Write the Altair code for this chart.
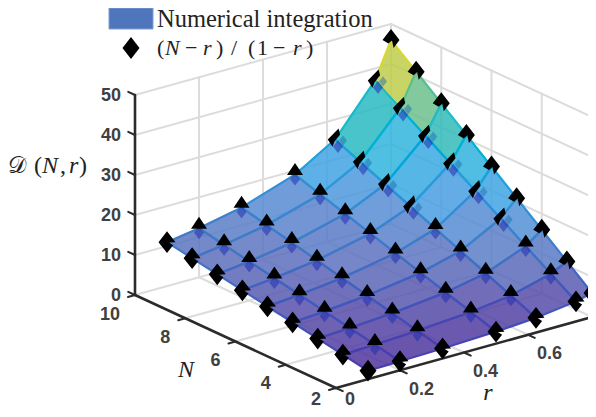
import altair as alt

# ---- values ----
N_values = [2, 3, 4, 5, 6, 7, 8, 9, 10]
r_values = [0.1, 0.2, 0.333, 0.5, 0.625, 0.75, 0.8]
D_r010 = [2.11, 3.22, 4.33, 5.44, 6.56, 7.67, 8.78, 9.89, 11.0]
D_r020 = [2.25, 3.5, 4.75, 6.0, 7.25, 8.5, 9.75, 11.0, 12.25]
D_r033 = [2.5, 4.0, 5.5, 7.0, 8.5, 10.0, 11.5, 13.0, 14.5]
D_r050 = [3.0, 5.0, 7.0, 9.0, 11.0, 13.0, 15.0, 17.0, 19.0]
D_r063 = [3.67, 6.33, 9.0, 11.67, 14.33, 17.0, 19.67, 22.33, 25.0]
D_r075 = [5.0, 9.0, 13.0, 17.0, 21.0, 25.0, 29.0, 33.0, 37.0]
D_r080 = [6.0, 11.0, 16.0, 21.0, 26.0, 31.0, 36.0, 41.0, 46.0]
D_rows = [D_r010, D_r020, D_r033, D_r050, D_r063, D_r075, D_r080]
z_ticks = [0, 10, 20, 30, 40, 50]
N_ticks = [2, 4, 6, 8, 10]
r_ticks = [0, 0.2, 0.4, 0.6]
r_tick_text = ["0", "0.2", "0.4", "0.6"]

SERIF = "Liberation Serif"
SANS = "Liberation Sans"
W, H = 580, 401
OFF = 8


# 3-D view: the oblique projection of this box onto the page
def proj(N, r, z):
    return (336 + 320 * r - 25.125 * (N - 2), 388 - 88.75 * r - 11.625 * (N - 2) - 4.0 * z)


def seg(a, b):
    p, q = proj(*a), proj(*b)
    return {"x": p[0], "y": p[1], "x2": q[0], "y2": q[1]}


xs = alt.Scale(domain=[OFF, OFF + W], range=[0, W])
ys = alt.Scale(domain=[OFF, OFF + H], range=[0, H])


def rules(segs, color, width):
    return alt.Chart(alt.Data(values=segs)).mark_rule(color=color, strokeWidth=width, strokeCap="round").encode(
        x=alt.X("x:Q", scale=xs, axis=None),
        y=alt.Y("y:Q", scale=ys, axis=None),
        x2="x2:Q",
        y2="y2:Q",
    )


def label(text, x, y, size=18, font=SANS, weight="normal", style="normal", align="left", color="#222222"):
    return alt.Chart(alt.Data(values=[{"t": text}])).mark_text(
        text=text, font=font, fontSize=size, fontWeight=weight, fontStyle=style, align=align,
        baseline="alphabetic", color=color,
    ).encode(x=alt.value(x - OFF), y=alt.value(y - OFF))


# ---- box grid ----
grid = []
for z in z_ticks[1:]:
    grid.append(seg((10, 0, z), (10, 0.8, z)))
    grid.append(seg((10, 0.8, z), (2, 0.8, z)))
for r in r_ticks[1:]:
    grid.append(seg((10, r, 0), (10, r, 50)))
    grid.append(seg((10, r, 0), (2, r, 0)))
for n in N_ticks[1:-1]:
    grid.append(seg((n, 0.8, 0), (n, 0.8, 50)))
    grid.append(seg((n, 0, 0), (n, 0.8, 0)))
grid.append(seg((10, 0.8, 0), (10, 0.8, 50)))
grid.append(seg((2, 0.8, 0), (2, 0.8, 50)))
grid.append(seg((10, 0, 0), (10, 0.8, 0)))
grid.append(seg((10, 0.8, 0), (2, 0.8, 0)))

axes_main = [seg((10, 0, 0), (10, 0, 50)), seg((10, 0, 0), (2, 0, 0)), seg((2, 0, 0), (2, 0.8, 0))]
ticks = []
for z in z_ticks:
    ticks.append(seg((10, 0, z), (10.27, 0, z)))
for n in N_ticks:
    ticks.append(seg((n, 0, 0), (n, -0.022, 0)))
for r in r_ticks:
    ticks.append(seg((2, r, 0), (1.73, r, 0)))

# ---- surface faces ----
features = []
for i in range(len(r_values) - 2, -1, -1):
    for j in range(len(N_values) - 2, -1, -1):
        corners = [(i, j), (i + 1, j), (i + 1, j + 1), (i, j + 1)]
        pts_ = [proj(N_values[b], r_values[a], D_rows[a][b]) for a, b in corners]
        key = sum(D_rows[a][b] for a, b in corners) / 4
        ring = [list(p) for p in pts_] + [list(pts_[0])]
        features.append({"type": "Feature", "properties": {"key": key},
                         "geometry": {"type": "Polygon", "coordinates": [ring]}})
features.sort(key=lambda f: -f["properties"]["key"])

FACE_ALPHA = 0.85


def unblend(hexc):
    v = [int(hexc[k:k + 2], 16) for k in (1, 3, 5)]
    v = [max(0, min(255, round((c - (1 - FACE_ALPHA) * 255) / FACE_ALPHA))) for c in v]
    return "#%02x%02x%02x" % tuple(v)


fill_dom = [3, 6, 10, 15, 20, 26, 30, 35, 39]
fill_rng = [unblend(c) for c in ["#6a55ad", "#7068b6", "#7585c6", "#7399d6", "#62aee6", "#4fbfe2", "#4fc5c6", "#85c99c", "#c4d46a"]]
edge_dom = [3, 10, 20, 30, 35, 40]
edge_rng = ["#4a3fb0", "#4475c4", "#2a9ddf", "#1fbcc8", "#55c090", "#f7d820"]

geo = alt.InlineData(values={"type": "FeatureCollection", "features": features},
                     format=alt.DataFormat(property="features", type="json"))
faces = alt.Chart(geo).mark_geoshape(strokeWidth=0, fillOpacity=FACE_ALPHA).encode(
    fill=alt.Fill("properties.key:Q", scale=alt.Scale(domain=fill_dom, range=fill_rng), legend=None)
).project(type="identity", scale=1, translate=[-OFF, -OFF])
edges = alt.Chart(geo).mark_geoshape(filled=False, strokeWidth=2.2).encode(
    stroke=alt.Stroke("properties.key:Q", scale=alt.Scale(domain=edge_dom, range=edge_rng), legend=None)
).project(type="identity", scale=1, translate=[-OFF, -OFF])

# ---- markers, split by how the surface cuts each diamond ----
DIAMOND = "M0,-1.28L1,0L0,1.28L-1,0Z"
NOTCH_R = "M0,-1.28L1,0L0.22,0.05L0.72,0.36L0,1.28L-1,0Z"
ARROW = "M0,-1.28L1,0L0.3,0.95L0.12,0.05L-0.3,0.42L-1,0Z"
TRI = "M0,-1.45L1,0.05L-1,0.05Z"
SLIVER = "M0.42,-1.3L-0.85,0.0L-0.3,0.85L-0.05,0.2L0.6,-0.6Z"

groups = {"full": [], "notch": [], "arrow": [], "tri": [], "sliver": []}
under = []
under_side = []
for i, r in enumerate(r_values):
    for j, n in enumerate(N_values):
        d = D_rows[i][j]
        x, y = proj(n, r, d)
        pt = {"x": x, "y": y}
        if i == 0 and j == 0:
            groups["full"].append(pt)
        elif i == 0 or j == 0:
            groups["notch"].append(pt)
        elif i == len(r_values) - 1:
            groups["arrow"].append(pt)
        elif d >= 17 and r >= 0.6:
            groups["sliver"].append(pt)
            under.append({"x": x + 3, "y": y + 7})
            under_side.append({"x": x + 8, "y": y + 1})
        else:
            groups["tri"].append(pt)
            under.append({"x": x, "y": y + 4.5})


def pts(values, shape, size, color="#000000", opacity=1.0):
    return alt.Chart(alt.Data(values=values)).mark_point(
        shape=shape, size=size, filled=True, fill=color, strokeWidth=0, opacity=opacity
    ).encode(x=alt.X("x:Q", scale=xs, axis=None), y=alt.Y("y:Q", scale=ys, axis=None))


marker_layers = [
    pts(under, DIAMOND, 100, "#1f2fb0", 0.55),
    pts(under_side, DIAMOND, 64, "#1f6fb0", 0.5),
    pts(groups["full"], DIAMOND, 289),
    pts(groups["notch"], NOTCH_R, 289),
    pts(groups["arrow"], ARROW, 289),
    pts(groups["tri"], TRI, 256),
    pts(groups["sliver"], SLIVER, 289),
]

# ---- texts ----
texts = []
for z in z_ticks:
    p = proj(10, 0, z)
    texts.append(label(str(z), 121, p[1] + 6, weight="bold", align="right", color="#404040"))
for n in N_ticks:
    p = proj(n, 0, 0)
    texts.append(label(str(n), p[0] - 15, min(p[1] + 24.5, 405), weight="bold", align="right", color="#404040"))
for r, t in zip(r_ticks, r_tick_text):
    p = proj(2, r, 0)
    texts.append(label(t, p[0] + 9, min(p[1] + 24.5, 405), weight="bold", color="#404040"))

texts.append(label("N", 186, 377, size=24, font=SERIF, style="italic", align="center"))
texts.append(label("r", 488, 400, size=24, font=SERIF, style="italic", align="center"))

# z title
texts.append(label("𝒟", 8, 173, size=23, font="DejaVu Sans"))
texts.append(label("(", 34, 173, size=24, font=SERIF))
texts.append(label("N", 42, 173, size=24, font=SERIF, style="italic"))
texts.append(label(",", 60, 173, size=24, font=SERIF))
texts.append(label("r", 69, 173, size=24, font=SERIF, style="italic"))
texts.append(label(")", 79, 173, size=24, font=SERIF))

# legend
legend_box = alt.Chart(alt.Data(values=[{"x": 109, "x2": 153, "y": OFF, "y2": 29}])).mark_rect(
    color="#4f75bd", stroke="#7f9fd6", strokeWidth=1
).encode(x=alt.X("x:Q", scale=xs, axis=None), x2="x2:Q", y=alt.Y("y:Q", scale=ys, axis=None), y2="y2:Q")
legend_mark = pts([{"x": 131, "y": 48}], DIAMOND, 289)
texts.append(label("Numerical integration", 157, 27, size=24.5, font=SERIF))
for t, x, st in [("(", 157, "normal"), ("N", 165, "italic"), ("−", 185, "normal"), ("r", 203, "italic"),
                 (")", 216, "normal"), ("/", 231, "normal"), ("(", 248, "normal"), ("1", 257, "normal"),
                 ("−", 273, "normal"), ("r", 293, "italic"), (")", 306, "normal")]:
    texts.append(label(t, x, 55, size=22, font=SERIF, style=st))

chart = alt.layer(
    rules(grid, "#dcdcdc", 2),
    faces,
    edges,
    rules(axes_main, "#2b2b2b", 2.6),
    rules(ticks, "#2b2b2b", 2),
    *marker_layers,
    legend_box,
    legend_mark,
    *texts,
).properties(
    width=W, height=H, padding=0, autosize=alt.AutoSizeParams(type="none")
).configure_view(stroke=None)

chart.save("out.html", embed_options={"renderer": "svg", "actions": False})
